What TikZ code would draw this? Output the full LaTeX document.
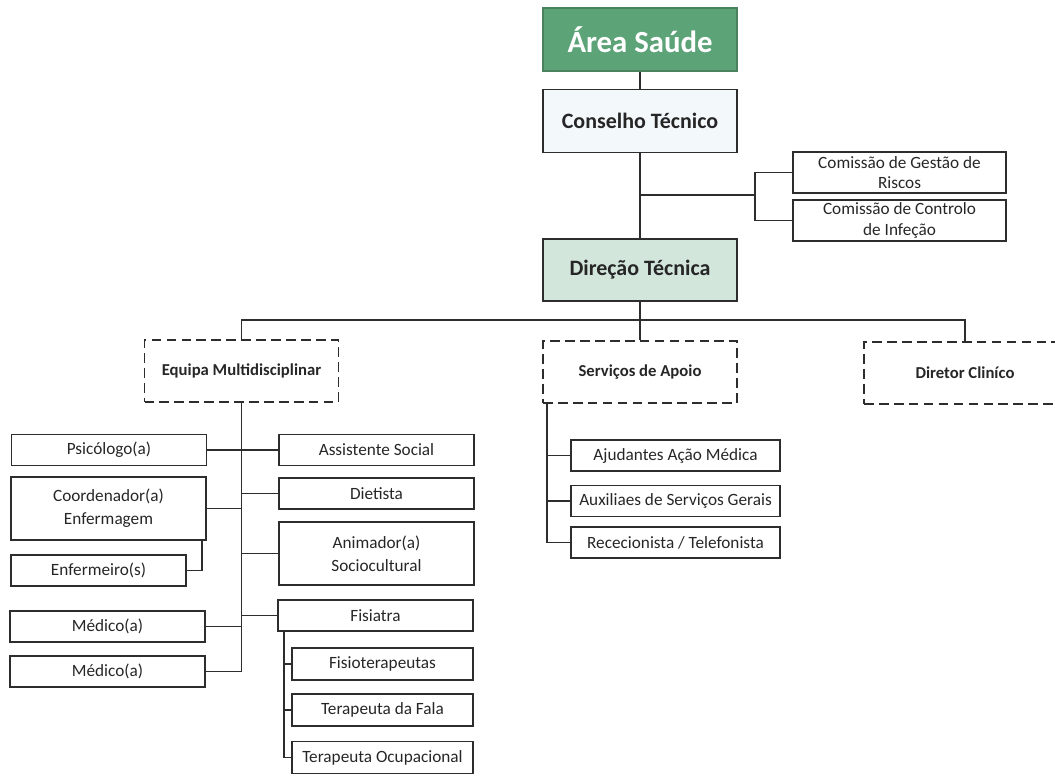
\documentclass[tikz,border=0pt]{standalone}
\usepackage{fontspec}
\setmainfont{Carlito}
\usepackage{xcolor}
\usetikzlibrary{
    calc,
    positioning
}
\definecolor{verdeforte}{RGB}{92,163,120}
\definecolor{verdeclaro}{RGB}{210,230,220}
\definecolor{azulclaro}{RGB}{243,248,250}
\definecolor{linha}{RGB}{45,45,45}

\begin{document}
\begin{tikzpicture}[x=0.02cm, y=-0.02cm,
    caixa/.style={draw=linha, line width=0.8pt, align=center, inner sep=1pt,
        text=black!85, font=\fontsize{9.8}{13}\selectfont},
    topo/.style={caixa, minimum width=3.88cm, minimum height=1.26cm,
        font=\fontsize{12.5}{15}\selectfont\bfseries},
    grupo/.style={caixa, dash pattern=on 5.5pt off 3pt, minimum width=3.88cm,
        minimum height=1.24cm, font=\fontsize{9.5}{11}\selectfont\bfseries},
    comissao/.style={caixa, minimum width=4.26cm, minimum height=0.82cm,
        font=\fontsize{9.8}{11.5}\selectfont},
    cargo/.style={caixa, minimum width=3.9cm, minimum height=0.62cm},
    cargoalto/.style={caixa, minimum width=3.9cm, minimum height=1.26cm},
    terapia/.style={caixa, minimum width=3.62cm, minimum height=0.64cm},
    apoio/.style={caixa, minimum width=4.18cm, minimum height=0.62cm},
    ligacao/.style={draw=linha, line width=0.8pt}]
    \useasboundingbox (0, 0) rectangle (1055, 775);

    \node[topo, fill=verdeforte, draw=verdeforte!80!black, text=white,
        font=\fontsize{17.5}{20}\selectfont\bfseries] (area) at (640, 39.5) {Área Saúde};
    \node[topo, fill=azulclaro] (conselho) at (640, 121) {Conselho Técnico};
    \node[topo, fill=verdeclaro, minimum height=1.24cm] (direcao) at (640, 270) {Direção Técnica};
    \node[comissao] (gestao) at (899.5, 172.5) {Comissão de Gestão de\\Riscos};
    \node[comissao] (controlo) at (899.5, 220.5) {Comissão de Controlo\\de Infeção};

    \node[grupo] (equipa) at (241.5, 371) {Equipa Multidisciplinar};
    \node[grupo] (servicos) at (640, 372) {Serviços de Apoio};
    \node[grupo, minimum width=4.04cm] (diretor) at (965, 373) {Diretor Cliníco};

    \node[cargo] (psicologo) at (109, 450) {Psicólogo(a)};
    \node[cargoalto] (coordenador) at (108.5, 508.5) {Coordenador(a)\\Enfermagem};
    \node[cargo, minimum width=3.5cm] (enfermeiro) at (98.5, 570.5) {Enfermeiro(s)};
    \node[cargo] (medicoa) at (107.5, 626.5) {Médico(a)};
    \node[cargo] (medicob) at (107.5, 671.5) {Médico(a)};

    \node[cargo] (assistente) at (376.5, 450) {Assistente Social};
    \node[cargo] (dietista) at (376.5, 493.5) {Dietista};
    \node[cargoalto] (animador) at (376.5, 553.5) {Animador(a)\\Sociocultural};
    \node[cargo] (fisiatra) at (375.5, 615.5) {Fisiatra};
    \node[terapia] (fisioterapeutas) at (382.5, 664) {Fisioterapeutas};
    \node[terapia] (fala) at (382.5, 710) {Terapeuta da Fala};
    \node[terapia] (ocupacional) at (382.5, 757.5) {Terapeuta Ocupacional};

    \node[apoio] (ajudantes) at (675.5, 455.5) {Ajudantes Ação Médica};
    \node[apoio] (auxiliares) at (675.5, 501) {Auxiliaes de Serviços Gerais};
    \node[apoio] (rececionista) at (675.5, 542.5) {Rececionista / Telefonista};

    \coordinate (ramocom) at (755, 195);
    \coordinate (barra) at (640, 320);
    \coordinate (enfligacao) at (202, 540);
    \coordinate (fisiligacao) at (284, 631);
    \coordinate (apoioligacao) at (547, 403);

    \draw[ligacao]
    (area.south) -- (conselho.north)
    (conselho.south) -- (direcao.north)
    (ramocom -| conselho.south) -- (ramocom)
    (gestao.west) -| (ramocom) |- (controlo.west)
    (direcao.south) -- (servicos.north)
    (equipa.north) |- (barra) -| (diretor.north);
    \draw[ligacao]
    (equipa.south) |- (medicob.east)
    (psicologo.east) -- (assistente.west)
    (coordenador.east) -- (coordenador.east -| equipa.south)
    (enfligacao) |- (enfermeiro.east)
    (medicoa.east) -- (medicoa.east -| equipa.south)
    (dietista.west) -- (dietista.west -| equipa.south)
    (animador.west) -- (animador.west -| equipa.south)
    (fisiatra.west) -- (fisiatra.west -| equipa.south);
    \draw[ligacao]
    (fisiligacao) |- (ocupacional.west)
    (fisioterapeutas.west) -- (fisioterapeutas.west -| fisiligacao)
    (fala.west) -- (fala.west -| fisiligacao);
    \draw[ligacao]
    (apoioligacao) |- (rececionista.west)
    (ajudantes.west) -- (ajudantes.west -| apoioligacao)
    (auxiliares.west) -- (auxiliares.west -| apoioligacao);
\end{tikzpicture}
\end{document}
